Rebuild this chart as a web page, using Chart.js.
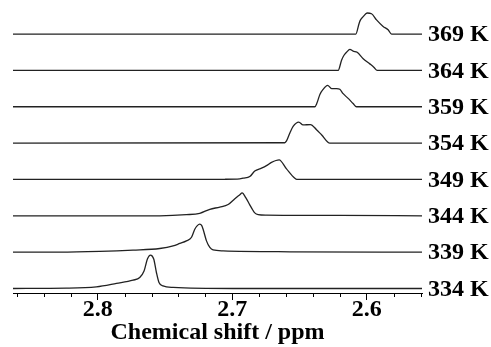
<!DOCTYPE html>
<html>
<head>
<meta charset="utf-8">
<script src="https://cdn.jsdelivr.net/npm/chart.js@4.4.1/dist/chart.umd.min.js"></script>
<style>
  body { margin: 0; background: #fff; }
</style>
</head>
<body>
<canvas id="myChart" width="491" height="347"></canvas>
<script>
// temperatures, bottom trace first
var temps = ['334 K', '339 K', '344 K', '349 K', '354 K', '359 K', '364 K', '369 K'];

// chemical shift (ppm) and intensity for each trace
var shift334 = [2.863, 2.8233, 2.8010, 2.7861, 2.7738, 2.7688, 2.7656, 2.7631, 2.7608, 2.7584, 2.7564, 2.7545, 2.7515, 2.7440, 2.6994, 2.559];
var int334   = [0, 0.008, 0.044, 0.14, 0.23, 0.30, 0.48, 0.81, 0.92, 0.81, 0.44, 0.165, 0.07, 0.03, 0, 0];

var shift339 = [2.863, 2.8283, 2.7985, 2.7738, 2.7539, 2.7440, 2.7390, 2.7341, 2.7303, 2.7279, 2.7260, 2.7242, 2.7227, 2.7217, 2.7192, 2.7167, 2.7143, 2.7068, 2.6572, 2.559];
var int339   = [0, 0, 0.02, 0.055, 0.10, 0.17, 0.24, 0.31, 0.41, 0.63, 0.73, 0.77, 0.73, 0.63, 0.31, 0.13, 0.06, 0.035, 0.01, 0];

var shift344 = [2.863, 2.7539, 2.7341, 2.7242, 2.7167, 2.7093, 2.7031, 2.6981, 2.6944, 2.6927, 2.6900, 2.6870, 2.6848, 2.6833, 2.6808, 2.6746, 2.6201, 2.559];
var int344   = [0, 0, 0.03, 0.07, 0.18, 0.24, 0.31, 0.47, 0.58, 0.63, 0.50, 0.30, 0.16, 0.08, 0.035, 0.02, 0.01, 0];

var shift349 = [2.863, 2.7056, 2.6944, 2.6920, 2.6870, 2.6833, 2.6783, 2.6746, 2.6709, 2.6652, 2.6597, 2.6535, 2.6520, 2.559];
var int349   = [0, 0.005, 0.015, 0.035, 0.08, 0.23, 0.31, 0.38, 0.47, 0.54, 0.29, 0.03, 0, 0];

var shift354 = [2.863, 2.661, 2.6597, 2.6572, 2.6548, 2.6506, 2.6474, 2.6419, 2.6374, 2.6337, 2.6275, 2.559];
var int354   = [0, 0.01, 0.06, 0.28, 0.46, 0.58, 0.50, 0.51, 0.37, 0.23, 0, 0];

var shift359 = [2.863, 2.6387, 2.6370, 2.6349, 2.6325, 2.6292, 2.6262, 2.6225, 2.6201, 2.6176, 2.6139, 2.6102, 2.6077, 2.559];
var int359   = [0, 0, 0.11, 0.34, 0.48, 0.59, 0.50, 0.50, 0.48, 0.36, 0.23, 0.09, 0, 0];

var shift364 = [2.863, 2.6213, 2.6188, 2.6171, 2.6151, 2.6126, 2.6102, 2.6072, 2.6027, 2.5978, 2.5948, 2.5923, 2.559];
var int364   = [0, 0, 0.28, 0.41, 0.50, 0.58, 0.53, 0.50, 0.32, 0.18, 0.09, 0, 0];

var shift369 = [2.863, 2.6082, 2.6057, 2.6047, 2.6027, 2.5998, 2.5965, 2.5928, 2.5879, 2.5842, 2.5816, 2.559];
var int369   = [0, 0, 0.30, 0.39, 0.48, 0.58, 0.56, 0.39, 0.21, 0.12, 0, 0];

// x axis ticks
var tickValues = [2.56, 2.58, 2.60, 2.62, 2.64, 2.66, 2.68, 2.70, 2.72, 2.74, 2.76, 2.78, 2.80, 2.82, 2.84, 2.86];
var majorTicks = [2.6, 2.7, 2.8];

var traces = [
  [shift334, int334], [shift339, int339], [shift344, int344], [shift349, int349],
  [shift354, int354], [shift359, int359], [shift364, int364], [shift369, int369]
];

function isMajor(v) {
  return majorTicks.some(function (m) { return Math.abs(m - v) < 1e-6; });
}

var datasets = traces.map(function (t, i) {
  return {
    label: temps[i],
    data: t[0].map(function (s, j) { return { x: s, y: i + t[1][j] }; }),
    borderColor: '#222',
    borderWidth: 1.3,
    pointRadius: 0,
    fill: false,
    cubicInterpolationMode: 'monotone'
  };
});

// short minor ticks under the axis line
var minorTicks = {
  id: 'minorTicks',
  afterDraw: function (chart) {
    var sc = chart.scales.x;
    var ctx = chart.ctx;
    ctx.save();
    ctx.strokeStyle = '#000';
    ctx.lineWidth = 1;
    sc.ticks.forEach(function (t) {
      if (isMajor(t.value)) return;
      var px = Math.round(sc.getPixelForValue(t.value)) + 0.5;
      ctx.beginPath();
      ctx.moveTo(px, sc.top);
      ctx.lineTo(px, sc.top + 4);
      ctx.stroke();
    });
    ctx.restore();
  }
};

var serif = "'Liberation Serif', 'Times New Roman', serif";

var ctx = document.getElementById('myChart').getContext('2d');
var chart = new Chart(ctx, {
  type: 'line',
  data: { datasets: datasets },
  options: {
    responsive: false,
    animation: false,
    devicePixelRatio: 1,
    layout: { padding: { left: 13, top: 5, right: 0, bottom: 0 } },
    plugins: { legend: { display: false }, tooltip: { enabled: false } },
    scales: {
      x: {
        type: 'linear',
        reverse: true,
        min: 2.559,
        max: 2.863,
        afterBuildTicks: function (axis) {
          axis.ticks = tickValues.map(function (v) { return { value: v }; });
        },
        afterFit: function (s) { s.height = 54; s.paddingLeft = 0; s.paddingRight = 0; },
        border: { display: true, color: '#000', width: 1 },
        grid: {
          drawOnChartArea: false,
          tickLength: 7,
          tickColor: function (c) { return c.tick && isMajor(c.tick.value) ? '#000' : 'rgba(0,0,0,0)'; }
        },
        ticks: {
          color: '#000',
          padding: 0,
          maxRotation: 0,
          autoSkip: false,
          font: { family: serif, size: 24, weight: 'bold', lineHeight: 0.8 },
          callback: function (v) { return isMajor(v) ? v.toFixed(1) : ''; }
        },
        title: {
          display: true,
          text: 'Chemical shift / ppm',
          color: '#000',
          padding: { top: 0, bottom: 2 },
          font: { family: serif, size: 24, weight: 'bold', lineHeight: 1 }
        }
      },
      y: {
        type: 'linear',
        position: 'right',
        min: -0.124,
        max: 7.80,
        afterBuildTicks: function (axis) {
          axis.ticks = temps.map(function (t, i) { return { value: i }; });
        },
        afterFit: function (s) { s.width = 69; s.paddingTop = 0; s.paddingBottom = 0; },
        border: { display: false },
        grid: { display: false, drawTicks: false },
        ticks: {
          color: '#000',
          padding: 6,
          labelOffset: 1,
          font: { family: serif, size: 24, weight: 'bold' },
          callback: function (v) { return temps[Math.round(v)]; }
        }
      }
    }
  },
  plugins: [minorTicks]
});
</script>
</body>
</html>
